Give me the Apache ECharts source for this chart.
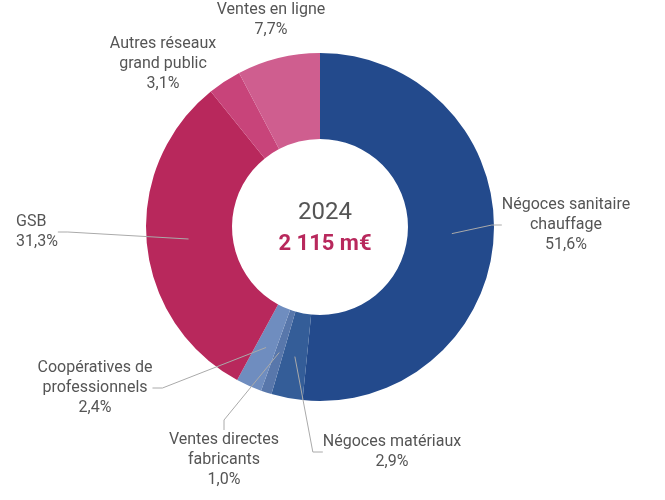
<!DOCTYPE html>
<html><head><meta charset="utf-8">
<script src="https://cdn.jsdelivr.net/npm/echarts@6/dist/echarts.min.js"></script>
<style>html,body{margin:0;background:#fff}#c{width:665px;height:500px}</style>
</head><body><div id="c"></div>
<script>
var categories = ['Négoces sanitaire\nchauffage', 'Négoces matériaux', 'Ventes directes\nfabricants',
    'Coopératives de\nprofessionnels', 'GSB', 'Autres réseaux\ngrand public', 'Ventes en ligne'];
var shares = [51.6, 2.9, 1.0, 2.4, 31.3, 3.1, 7.7];
var colors = ['#234a8c', '#345d98', '#5877ab', '#6f8dbf', '#b8285c', '#c8447a', '#cf5e8f'];
var showLine = [true, true, true, true, true, false, false];
var year = '2024';
var total = '2 115 m€';

// label spots (left, top, align) per slice
var spots = [
    [566, 195, 'center'], [392, 432, 'center'], [224, 430, 'center'],
    [95, 358, 'center'], [16, 212, 'left'], [163, 34, 'center'], [271, 0, 'center']
];

(function () {
    var myChart = echarts.init(document.getElementById('c'));
    var data = categories.map(function (c, i) {
        return { name: c, value: shares[i], itemStyle: { color: colors[i] } };
    });
    myChart.setOption({
        animation: false,
        textStyle: { fontFamily: 'Roboto' },
        title: {
            text: year, subtext: total, left: 320, top: 196, textAlign: 'center', itemGap: 8,
            textStyle: { fontSize: 24, fontWeight: 'normal', color: '#555', fontFamily: 'Roboto' },
            subtextStyle: { fontSize: 22, fontWeight: 'bold', color: '#b8285c', fontFamily: 'Roboto' }
        },
        series: [{
            type: 'pie',
            z: 1,
            center: [320, 227],
            radius: [88, 174],
            startAngle: 90,
            clockwise: true,
            silent: true,
            label: { show: false },
            data: data
        }, {
            type: 'pie',
            z: 5,
            center: [320, 227],
            radius: [0, 132],
            startAngle: 90,
            clockwise: true,
            silent: true,
            itemStyle: { color: 'transparent' },
            label: {
                show: true,
                formatter: function (p) { return p.name + '\n' + p.value.toFixed(1).replace('.', ',') + '%'; },
                fontSize: 16, color: '#555', lineHeight: 20
            },
            labelLine: { show: true, lineStyle: { color: '#aaa', width: 1 }, length: 10, length2: 10 },
            labelLayout: function (p) {
                var s = spots[p.dataIndex];
                return { x: s[0], y: s[1], align: s[2], verticalAlign: 'top', hideOverlap: false };
            },
            data: data.map(function (d, i) {
                return { name: d.name, value: d.value, labelLine: { show: showLine[i] } };
            })
        }]
    });
})();
</script></body></html>
